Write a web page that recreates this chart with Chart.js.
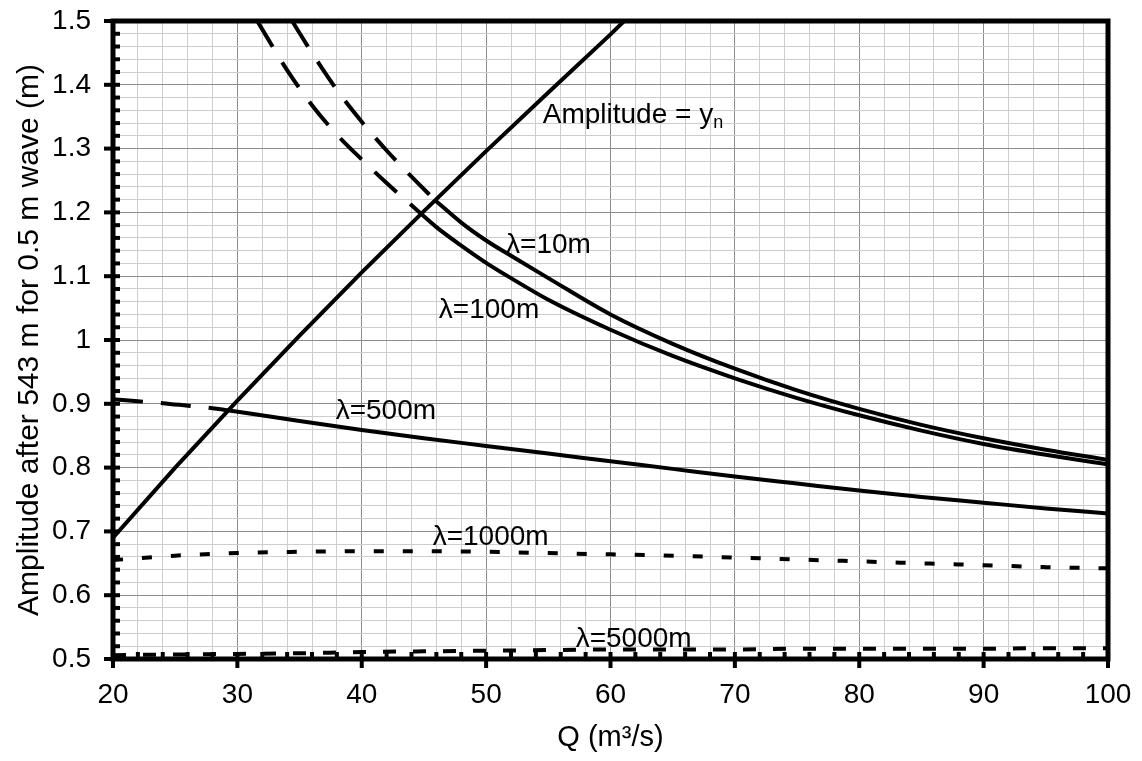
<!DOCTYPE html>
<html>
<head>
<meta charset="utf-8">
<title>Wave amplitude vs discharge</title>
<script src="https://cdn.jsdelivr.net/npm/chart.js@4.4.1/dist/chart.umd.min.js"></script>
<style>
  body { margin: 0; background: #fff; }
  canvas { display: block; }
</style>
</head>
<body>
<canvas id="ampChart" width="1142" height="761"></canvas>
<script>
// discharge Q (m3/s) and amplitude (m)
const qAmp = [20, 25, 30, 35, 40, 45, 50, 55, 60, 61.1];
const ampYn = [0.690, 0.800, 0.905, 1.007, 1.106, 1.202, 1.296, 1.388, 1.479, 1.500];

const q10Dash = [34.4, 36, 38, 40, 42, 44, 45.9];
const a10Dash = [1.500, 1.450, 1.392, 1.342, 1.297, 1.256, 1.219];
const q10 = [45.9, 48, 50, 52, 55, 60, 65, 70, 75, 80, 85, 90, 95, 100];
const a10 = [1.219, 1.184, 1.156, 1.132, 1.097, 1.040, 0.994, 0.955, 0.921, 0.892, 0.867, 0.846, 0.828, 0.812];

const q100Dash = [31.6, 34, 36, 38, 40, 42, 44.7];
const a100Dash = [1.500, 1.423, 1.368, 1.322, 1.283, 1.246, 1.199];
const q100 = [44.7, 46, 48, 50, 52, 55, 60, 65, 70, 75, 80, 85, 90, 95, 100];
const a100 = [1.199, 1.177, 1.148, 1.121, 1.097, 1.063, 1.016, 0.975, 0.940, 0.909, 0.882, 0.858, 0.837, 0.820, 0.805];

const q500Dash = [20, 22, 24, 26, 28, 29.2];
const a500Dash = [0.907, 0.904, 0.901, 0.897, 0.893, 0.890];
const q500 = [29.2, 35, 40, 45, 50, 55, 60, 65, 70, 75, 80, 85, 90, 95, 100];
const a500 = [0.890, 0.873, 0.859, 0.846, 0.834, 0.822, 0.810, 0.798, 0.786, 0.775, 0.764, 0.754, 0.745, 0.736, 0.728];

const qLong = [20, 25, 30, 35, 40, 45, 50, 55, 60, 65, 70, 75, 80, 85, 90, 95, 100];
const a1000 = [0.655, 0.662, 0.666, 0.668, 0.669, 0.669, 0.668, 0.666, 0.664, 0.662, 0.659, 0.656, 0.653, 0.650, 0.647, 0.644, 0.642];
const a5000 = [0.506, 0.507, 0.508, 0.509, 0.511, 0.512, 0.513, 0.514, 0.515, 0.515, 0.515, 0.516, 0.516, 0.516, 0.516, 0.517, 0.517];

// curve labels: text, Q, amplitude at the text's left baseline
const curveLabels = [
    { text: 'λ=10m', q: 51.6, a: 1.137 },
    { text: 'λ=100m', q: 46.2, a: 1.034 },
    { text: 'λ=500m', q: 37.9, a: 0.876 },
    { text: 'λ=1000m', q: 45.7, a: 0.679 },
    { text: 'λ=5000m', q: 57.2, a: 0.519 }
];

const FONT = '"Liberation Sans", Arial, sans-serif';

function pts(xs, ys) {
    return xs.map((x, i) => ({ x: x, y: ys[i] }));
}

function curve(xs, ys, dash, smooth) {
    return {
        data: pts(xs, ys),
        borderColor: '#000',
        borderWidth: 4,
        borderDash: dash,
        borderCapStyle: 'butt',
        pointRadius: 0,
        fill: false,
        cubicInterpolationMode: smooth ? 'monotone' : 'default',
        tension: 0
    };
}

const LONG_DASH = [30, 18];

const isMajorY = v => Math.abs(v * 10 - Math.round(v * 10)) < 1e-6;
const isMajorX = v => Math.abs(v / 10 - Math.round(v / 10)) < 1e-6;

// thick frame plus the excel-style tick marks
const frameTicks = {
    id: 'frameTicks',
    afterDatasetsDraw(chart) {
        const { ctx, chartArea: a, scales: { x, y } } = chart;
        ctx.save();
        ctx.strokeStyle = '#000';
        ctx.lineWidth = 4;
        x.ticks.forEach(t => {
            const px = x.getPixelForValue(t.value);
            ctx.beginPath();
            ctx.moveTo(px, a.bottom - 7);
            ctx.lineTo(px, a.bottom + (isMajorX(t.value) ? 9 : 0));
            ctx.stroke();
        });
        y.ticks.forEach(t => {
            const py = y.getPixelForValue(t.value);
            ctx.beginPath();
            ctx.moveTo(a.left + 7, py);
            ctx.lineTo(a.left - (isMajorY(t.value) ? 9 : 0), py);
            ctx.stroke();
        });
        ctx.lineWidth = 5;
        ctx.strokeRect(a.left, a.top, a.right - a.left, a.bottom - a.top);
        ctx.restore();
    }
};

const textLabels = {
    id: 'textLabels',
    afterDraw(chart) {
        const { ctx, scales: { x, y } } = chart;
        ctx.save();
        ctx.fillStyle = '#000';
        ctx.textBaseline = 'alphabetic';
        ctx.textAlign = 'left';
        ctx.font = '28px ' + FONT;
        curveLabels.forEach(l => {
            ctx.fillText(l.text, x.getPixelForValue(l.q), y.getPixelForValue(l.a));
        });
        // Amplitude = y with subscript n
        const ax = x.getPixelForValue(54.55);
        const ay = y.getPixelForValue(1.340);
        const main = 'Amplitude = y';
        ctx.fillText(main, ax, ay);
        const w = ctx.measureText(main).width;
        ctx.font = '18px ' + FONT;
        ctx.fillText('n', ax + w, ay + 5);
        ctx.restore();
    }
};

new Chart(document.getElementById('ampChart'), {
    type: 'line',
    data: {
        datasets: [
            curve(qAmp, ampYn, [], false),
            curve(q10Dash, a10Dash, LONG_DASH, true),
            curve(q10, a10, [], true),
            curve(q100Dash, a100Dash, LONG_DASH, true),
            curve(q100, a100, [], true),
            curve(q500Dash, a500Dash, LONG_DASH, true),
            curve(q500, a500, [], true),
            curve(qLong, a1000, [10, 19], true),
            curve(qLong, a5000, [13, 17], true)
        ]
    },
    options: {
        responsive: false,
        animation: false,
        layout: { padding: { top: 21, right: 34, left: 0, bottom: 0 } },
        plugins: {
            legend: { display: false },
            tooltip: { enabled: false }
        },
        scales: {
            x: {
                type: 'linear',
                min: 20,
                max: 100,
                afterFit: s => {
                    s.height = 102;
                    s.paddingLeft = 0;
                    s.paddingRight = 0;
                },
                ticks: {
                    stepSize: 2,
                    maxTicksLimit: 100,
                    autoSkip: false,
                    maxRotation: 0,
                    padding: 19,
                    color: '#000',
                    font: { family: FONT, size: 28 },
                    callback: v => isMajorX(v) ? String(Math.round(v)) : ''
                },
                grid: {
                    drawTicks: false,
                    lineWidth: 1,
                    color: c => isMajorX(c.tick.value) ? '#8c8c8c' : '#cdcdcd'
                },
                border: { display: false },
                title: {
                    display: true,
                    text: 'Q (m³/s)',
                    color: '#000',
                    font: { family: FONT, size: 29 },
                    padding: { top: 0, bottom: 6 }
                }
            },
            y: {
                min: 0.5,
                max: 1.5,
                afterFit: s => {
                    s.width = 113;
                    s.paddingTop = 0;
                    s.paddingBottom = 0;
                },
                ticks: {
                    stepSize: 0.02,
                    maxTicksLimit: 100,
                    autoSkip: false,
                    padding: 22,
                    color: '#000',
                    font: { family: FONT, size: 28 },
                    callback: v => isMajorY(v) ? String(Math.round(v * 10) / 10) : ''
                },
                grid: {
                    drawTicks: false,
                    lineWidth: 1,
                    color: c => isMajorY(c.tick.value) ? '#8c8c8c' : '#cdcdcd'
                },
                border: { display: false },
                title: {
                    display: true,
                    text: 'Amplitude after 543 m for 0.5 m wave (m)',
                    color: '#000',
                    font: { family: FONT, size: 30 },
                    padding: { top: 12, bottom: 0 }
                }
            }
        }
    },
    plugins: [frameTicks, textLabels]
});
</script>
</body>
</html>
